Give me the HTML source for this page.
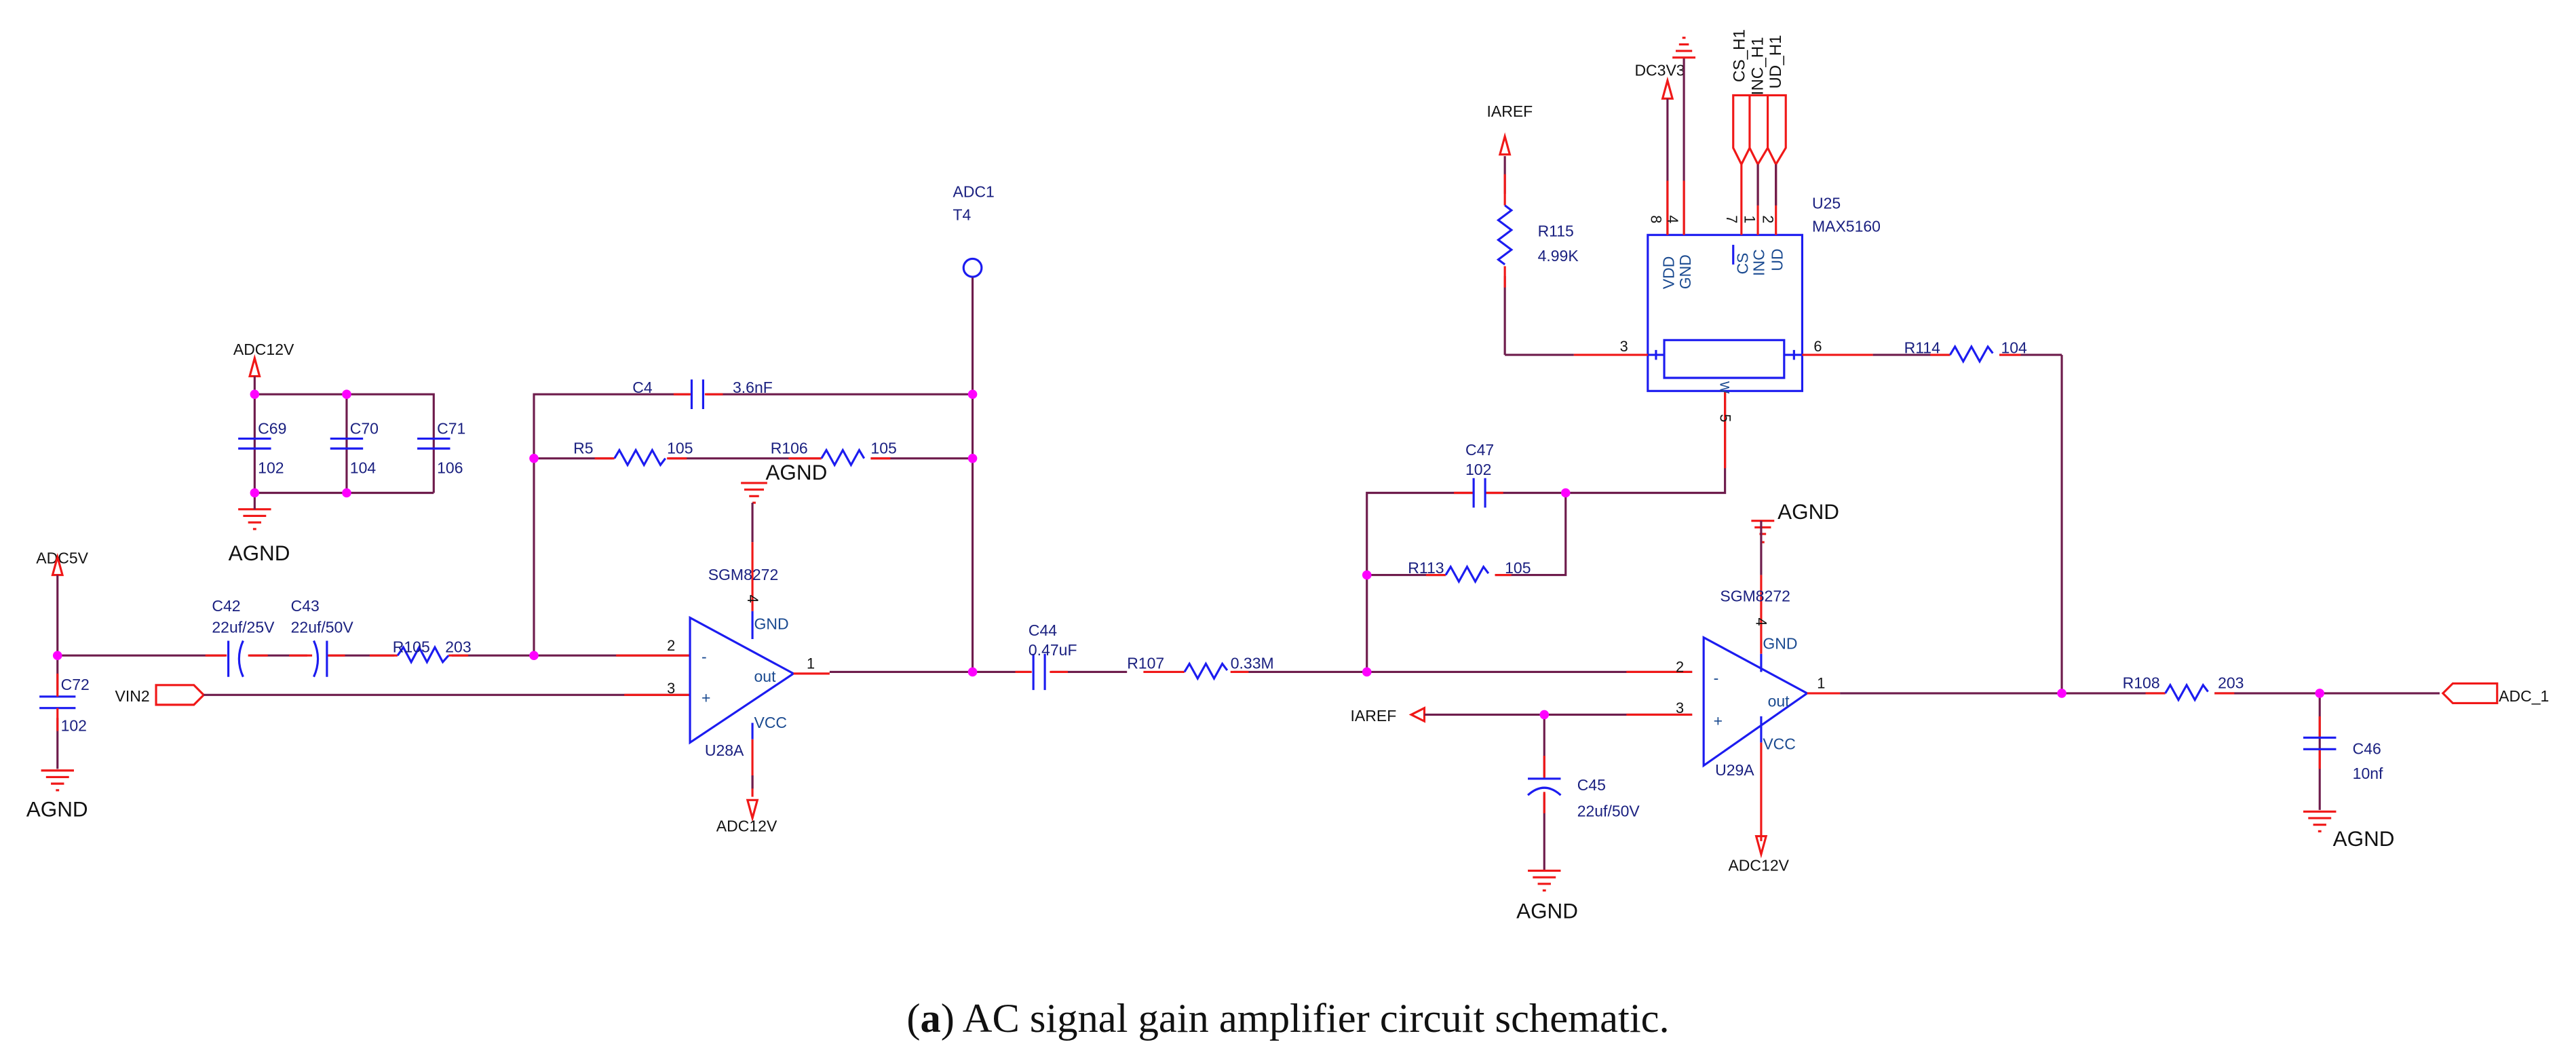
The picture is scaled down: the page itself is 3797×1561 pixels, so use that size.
<!DOCTYPE html>
<html><head><meta charset="utf-8"><style>
html,body{margin:0;padding:0;background:#fff;}
svg{display:block;}
.w{stroke:#6e1c4c;stroke-width:1.3;fill:none;}
.r{stroke:#f01818;stroke-width:1.3;fill:none;}
.b{stroke:#1c1cf0;stroke-width:1.3;fill:none;}
.j{fill:#ff00ff;}
text{font-family:"Liberation Sans",sans-serif;}
.l{fill:#1a2080;font-size:9.5px;}
.k{fill:#111;font-size:9.5px;}
.g{fill:#111;font-size:13px;}
.p{fill:#111;font-size:9px;}
.s{fill:#1a4a90;font-size:9.5px;}
</style></head><body>
<svg width="3797" height="1561" viewBox="0 0 1568 644.6" xmlns="http://www.w3.org/2000/svg">
<text class="k" x="22" y="343">ADC5V</text>
<path class="r" d="M35 339 l-3 11 h6 z"/>
<path class="w" d="M35 350 V420 M35 437 V468"/>
<path class="b" d="M24 424 h22 M24 431 h22"/>
<path class="r" d="M35 410 V424 M35 431 V445"/>
<path class="r" d="M25 469 h20 M28 473 h14 M31 477 h8 M34 481 h2"/>
<text class="g" x="16" y="497">AGND</text>
<text class="l" x="37" y="420">C72</text><text class="l" x="37" y="445">102</text>
<path class="w" d="M35 399 H137 M152 399 H187 M200 399 H240 M275 399 H420"/>
<path class="r" d="M125 399 H138 M151 399 H163 M176 399 H190 M199 399 H210 M225 399 H242 M273 399 H285 M375 399 H420"/>
<path class="b" d="M139 390 V412 M148 390 q-5 11 0 22 M191 390 q5 11 0 22 M199 390 V412"/>
<path class="b" d="M242 399 l3.5 -5 l4.8 9 l4.8 -9 l4.8 9 l4.8 -9 l4.8 9 l3.5 -4"/>
<text class="l" x="129" y="372">C42</text><text class="l" x="129" y="385">22uf/25V</text>
<text class="l" x="177" y="372">C43</text><text class="l" x="177" y="385">22uf/50V</text>
<text class="l" x="239" y="397">R105</text><text class="l" x="271" y="397">203</text>
<text class="p" x="406" y="396">2</text><text class="p" x="406" y="422">3</text>
<text class="k" x="70" y="427">VIN2</text>
<path class="r" d="M95 417 h23 l6 6 l-6 6 h-23 z"/>
<path class="w" d="M124 423 H420"/><path class="r" d="M380 423 H420"/>
<text class="k" x="142" y="216">ADC12V</text>
<path class="r" d="M155 218 l-3 11 h6 z"/>
<path class="w" d="M155 229 V300 M155 240 H264 V300 M211 240 V300 M155 300 H264"/>
<path class="b" d="M145 267 h20 M145 273 h20 M201 267 h20 M201 273 h20 M254 267 h20 M254 273 h20"/>
<path class="r" d="M145 310 h20 M148 314 h14 M151 318 h8 M154 322 h2"/>
<path class="w" d="M155 300 V310"/>
<text class="g" x="139" y="341">AGND</text>
<text class="l" x="157" y="264">C69</text><text class="l" x="157" y="288">102</text>
<text class="l" x="213" y="264">C70</text><text class="l" x="213" y="288">104</text>
<text class="l" x="266" y="264">C71</text><text class="l" x="266" y="288">106</text>
<path class="w" d="M325 399 V240 H420 M430 240 H592 M325 279 H373 M407 279 H500 M530 279 H592"/>
<path class="r" d="M410 240 H421 M429 240 H440 M362 279 H374 M406 279 H418 M480 279 H500 M530 279 H542"/>
<path class="b" d="M421 231 V249 M428 231 V249"/>
<path class="b" d="M374 279 l3 -5 l5 9 l5 -9 l5 9 l5 -9 l5 9 l3 -4"/>
<path class="b" d="M500 279 l3 -5 l5 9 l5 -9 l5 9 l5 -9 l3 5"/>
<text class="l" x="385" y="239">C4</text><text class="l" x="446" y="239">3.6nF</text>
<text class="l" x="349" y="276">R5</text><text class="l" x="406" y="276">105</text>
<text class="l" x="469" y="276">R106</text><text class="l" x="530" y="276">105</text>
<text class="l" x="580" y="120">ADC1</text><text class="l" x="580" y="134">T4</text>
<circle cx="592" cy="163" r="5.5" class="b"/>
<path class="w" d="M592 169 V409"/>
<path class="b" d="M420 376 V452 L483 410 Z"/>
<path class="r" d="M451 294 h16 M453 298 h12 M456 302 h6 M458 306 h2"/>
<text class="g" x="466" y="292">AGND</text>
<path class="w" d="M458 306 V330"/><path class="r" d="M458 330 V372"/><path class="b" d="M458 372 V389"/>
<path class="b" d="M458 440 V450"/><path class="r" d="M458 450 V485"/><path class="w" d="M458 472 V480"/>
<path class="r" d="M458 498 l-3 -11 h6 z"/>
<text class="k" x="436" y="506">ADC12V</text>
<text class="l" x="431" y="353">SGM8272</text>
<text class="p" x="455" y="362" transform="rotate(90 455 362)">4</text>
<text class="s" x="459" y="383">GND</text><text class="s" x="459" y="443">VCC</text>
<text class="s" x="427" y="403">-</text><text class="s" x="427" y="428">+</text>
<text class="s" x="459" y="415">out</text>
<text class="l" x="429" y="460">U28A</text>
<text class="p" x="491" y="407">1</text>
<path class="r" d="M483 410 H505"/><path class="w" d="M505 409 H627 M640 409 H686 M751 409 H1030"/>
<path class="r" d="M618 409 H628 M639 409 H650 M696 409 H721 M749 409 H760 M990 409 H1030"/>
<path class="b" d="M629 398 V420 M636 398 V420"/>
<path class="b" d="M721 409 l3 -5 l5 9 l5 -9 l5 9 l5 -9 l3 4"/>
<text class="l" x="626" y="387">C44</text><text class="l" x="626" y="399">0.47uF</text>
<text class="l" x="686" y="407">R107</text><text class="l" x="749" y="407">0.33M</text>
<path class="w" d="M832 409 V300 H897 M904 300 H1050 V238 M832 350 H880 M910 350 H953 V300"/>
<path class="r" d="M885 300 H897 M904 300 H915 M868 350 H880 M910 350 H920 M1050 238 V285"/>
<path class="b" d="M897 291 V309 M904 291 V309"/>
<path class="b" d="M880 350 l3 -5 l5 9 l5 -9 l5 9 l5 -9 l3 4"/>
<text class="l" x="892" y="277">C47</text><text class="l" x="892" y="289">102</text>
<text class="l" x="857" y="349">R113</text><text class="l" x="916" y="349">105</text>
<text class="p" x="1047" y="252" transform="rotate(90 1047 252)">5</text>
<text class="k" x="822" y="439">IAREF</text>
<path class="r" d="M859 435 l8 -4 v8 z"/>
<path class="w" d="M867 435 H1030 M940 435 V473 M940 483 V530"/>
<path class="r" d="M990 435 H1030 M940 460 V474 M940 482 V495"/>
<path class="b" d="M930 474 h20 M930 484 q10 -9 20 0"/>
<path class="r" d="M930 530 h20 M933 534 h14 M936 538 h8 M939 542 h2"/>
<text class="g" x="923" y="559">AGND</text>
<text class="l" x="960" y="481">C45</text><text class="l" x="960" y="497">22uf/50V</text>
<path class="b" d="M1037 388 V466 L1100 422 Z"/>
<text class="p" x="1020" y="409">2</text><text class="p" x="1020" y="434">3</text>
<path class="r" d="M1066 317 h14 M1068 321 h10 M1071 325 h4 M1072 330 h2"/>
<text class="g" x="1082" y="316">AGND</text>
<path class="w" d="M1072 317 V350"/><path class="r" d="M1072 350 V398"/><path class="b" d="M1072 398 V409"/>
<path class="b" d="M1072 436 V452"/><path class="r" d="M1072 452 V512"/>
<path class="r" d="M1072 520 l-3 -11 h6 z"/>
<text class="k" x="1052" y="530">ADC12V</text>
<text class="l" x="1047" y="366">SGM8272</text>
<text class="p" x="1069" y="376" transform="rotate(90 1069 376)">4</text>
<text class="s" x="1073" y="395">GND</text><text class="s" x="1073" y="456">VCC</text>
<text class="s" x="1043" y="416">-</text><text class="s" x="1043" y="442">+</text>
<text class="s" x="1076" y="430">out</text>
<text class="l" x="1044" y="472">U29A</text>
<text class="p" x="1106" y="419">1</text>
<path class="r" d="M1100 422 H1120"/><path class="w" d="M1120 422 H1318 M1348 422 H1485 M1255 422 V216"/>
<path class="r" d="M1306 422 H1318 M1348 422 H1360"/>
<path class="b" d="M1318 422 l3 -5 l5 9 l5 -9 l5 9 l5 -9 l3 4"/>
<text class="l" x="1292" y="419">R108</text><text class="l" x="1350" y="419">203</text>
<path class="w" d="M1412 422 V493"/><path class="r" d="M1412 436 V449 M1412 456 V468"/>
<path class="b" d="M1402 449 h20 M1402 456 h20"/>
<path class="r" d="M1402 494 h20 M1405 498 h14 M1408 502 h8 M1411 506 h2"/>
<text class="g" x="1420" y="515">AGND</text>
<text class="l" x="1432" y="459">C46</text><text class="l" x="1432" y="474">10nf</text>
<path class="r" d="M1520 416 h-27 l-6 6 l6 6 h27 z"/>
<text class="k" x="1521" y="427">ADC_1</text>
<path class="b" d="M1003 143 H1097 V238 H1003 Z M1013 207 H1086 V230 H1013 Z M1003 216 H1013 M1086 216 H1097"/>
<path class="b" d="M1008 213 V219 M1092 213 V219"/>
<text class="s" x="1047" y="232" transform="rotate(90 1047 232)" style="font-size:8px">W</text>
<path class="w" d="M916 216 H958 M1140 216 H1187 M1217 216 H1255 M916 95 V118 M916 168 V216"/>
<path class="r" d="M958 216 H1003 M1097 216 H1140 M1175 216 H1187 M1217 216 H1230 M916 106 V125 M916 162 V175"/>
<path class="b" d="M1187 216 l3 -5 l5 9 l5 -9 l5 9 l5 -9 l3 4"/>
<path class="b" d="M916 125 l4 3 l-8 6 l8 6 l-8 6 l8 6 l-8 6 l4 3"/>
<text class="p" x="986" y="214">3</text><text class="p" x="1104" y="214">6</text>
<text class="l" x="1159" y="215">R114</text><text class="l" x="1218" y="215">104</text>
<text class="l" x="936" y="144">R115</text><text class="l" x="936" y="159">4.99K</text>
<text class="k" x="905" y="71">IAREF</text>
<path class="r" d="M916 83 l-3 11 h6 z"/>
<text class="l" x="1103" y="127">U25</text><text class="l" x="1103" y="141">MAX5160</text>
<path class="r" d="M1015 49 l-3 11 h6 z"/>
<text class="k" x="995" y="46">DC3V3</text>
<path class="w" d="M1015 60 V143 M1025 35 V143"/>
<path class="r" d="M1015 110 V143 M1025 110 V143"/>
<path class="r" d="M1018 35 h14 M1020 31 h10 M1022 27 h6 M1024 23 h2"/>
<path class="r" d="M1055 58 V90 L1060 100 L1065 90 V58 Z M1065 58 V90 L1070 100 L1076 90 V58 Z M1076 58 V90 L1081 100 L1087 90 V58 Z M1055 58 H1087 M1060 100 V143 M1070 100 V143 M1081 100 V143"/>
<path class="w" d="M1070 100 V125 M1081 100 V125"/>
<text class="k" x="1062" y="50" transform="rotate(-90 1062 50)" style="font-size:10px">CS_H1</text>
<text class="k" x="1073" y="58" transform="rotate(-90 1073 58)" style="font-size:10px">INC_H1</text>
<text class="k" x="1084" y="54" transform="rotate(-90 1084 54)" style="font-size:10px">UD_H1</text>
<text class="p" x="1005" y="131" transform="rotate(90 1005 131)">8</text>
<text class="p" x="1015" y="131" transform="rotate(90 1015 131)">4</text>
<text class="p" x="1051" y="131" transform="rotate(90 1051 131)">7</text>
<text class="p" x="1062" y="131" transform="rotate(90 1062 131)">1</text>
<text class="p" x="1073" y="131" transform="rotate(90 1073 131)">2</text>
<text class="s" x="1019" y="176" transform="rotate(-90 1019 176)">VDD</text>
<text class="s" x="1029" y="176" transform="rotate(-90 1029 176)">GND</text>
<text class="s" x="1064" y="167" transform="rotate(-90 1064 167)">CS</text>
<text class="s" x="1074" y="168" transform="rotate(-90 1074 168)">INC</text>
<text class="s" x="1085" y="165" transform="rotate(-90 1085 165)">UD</text>
<path class="b" d="M1055 149 V161"/>
<g class="j">
<circle cx="35" cy="399" r="2.8"/><circle cx="325" cy="399" r="2.8"/><circle cx="325" cy="279" r="2.8"/>
<circle cx="592" cy="240" r="2.8"/><circle cx="592" cy="279" r="2.8"/><circle cx="592" cy="409" r="2.8"/>
<circle cx="155" cy="240" r="2.8"/><circle cx="211" cy="240" r="2.8"/><circle cx="155" cy="300" r="2.8"/><circle cx="211" cy="300" r="2.8"/>
<circle cx="832" cy="409" r="2.8"/><circle cx="832" cy="350" r="2.8"/><circle cx="953" cy="300" r="2.8"/>
<circle cx="940" cy="435" r="2.8"/><circle cx="1255" cy="422" r="2.8"/><circle cx="1412" cy="422" r="2.8"/>
</g>
<text x="784" y="628" text-anchor="middle" style="font-family:'Liberation Serif',serif;font-size:25px;fill:#111">(<tspan font-weight="bold">a</tspan>) AC signal gain amplifier circuit schematic.</text>
</svg>
</body></html>
